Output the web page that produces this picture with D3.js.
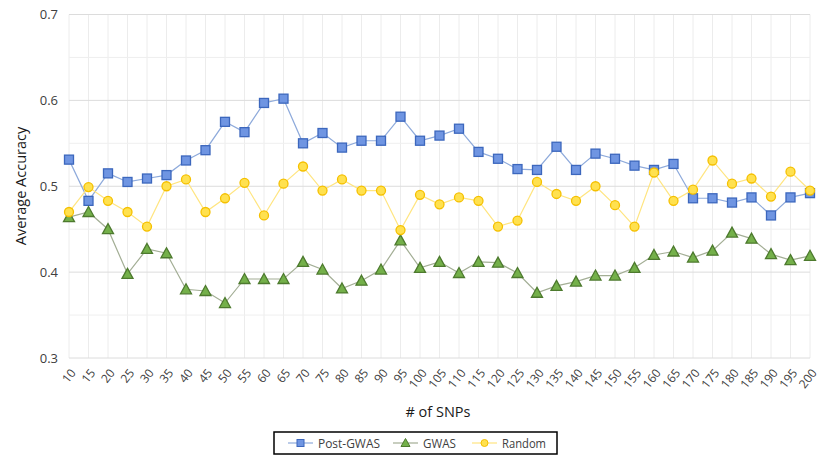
<!DOCTYPE html>
<html><head><meta charset="utf-8">
<script src="https://cdn.jsdelivr.net/npm/d3@7"></script>
<style>body{margin:0;background:#fff}svg{display:block}text{font-family:"Open Sans","Liberation Sans",sans-serif}</style>
</head><body><svg id="c" width="832" height="465"></svg>
<script>
const categories = [10,15,20,25,30,35,40,45,50,55,60,65,70,75,80,85,90,95,100,105,110,115,120,125,130,135,140,145,150,155,160,165,170,175,180,185,190,195,200];
const postGWAS = [0.531,0.483,0.515,0.505,0.509,0.513,0.530,0.542,0.575,0.563,0.597,0.602,0.550,0.562,0.545,0.553,0.553,0.581,0.553,0.559,0.567,0.540,0.532,0.520,0.519,0.546,0.519,0.538,0.532,0.524,0.519,0.526,0.486,0.486,0.481,0.487,0.466,0.487,0.492];
const gwas = [0.464,0.470,0.450,0.398,0.427,0.422,0.380,0.378,0.364,0.392,0.392,0.392,0.412,0.403,0.381,0.390,0.403,0.437,0.405,0.412,0.399,0.412,0.411,0.399,0.376,0.384,0.389,0.396,0.396,0.405,0.420,0.424,0.417,0.425,0.446,0.439,0.421,0.414,0.419];
const randomAcc = [0.470,0.499,0.483,0.470,0.453,0.500,0.508,0.470,0.486,0.504,0.466,0.503,0.523,0.495,0.508,0.495,0.495,0.449,0.490,0.479,0.487,0.483,0.453,0.460,0.505,0.491,0.483,0.500,0.478,0.453,0.516,0.483,0.496,0.530,0.503,0.509,0.488,0.517,0.495];
const yTicks = [0.3,0.4,0.5,0.6,0.7];
const yMinor = [0.35,0.45,0.55,0.65];
const seriesNames = ["Post-GWAS","GWAS","Random"];

const svg = d3.select("#c");
const L=69, R=810, T=14.5, B=358;
const x = d3.scalePoint().domain(categories).range([L,R]);
const y = d3.scaleLinear().domain([0.3,0.7]).range([B,T]);

const g = svg.append("g");
g.selectAll(".vg").data(categories).enter().append("line")
 .attr("x1",d=>x(d)).attr("x2",d=>x(d)).attr("y1",T).attr("y2",B)
 .attr("stroke","#ececec").attr("stroke-width",1);
g.selectAll(".mg").data(yMinor).enter().append("line")
 .attr("x1",L).attr("x2",R).attr("y1",d=>y(d)).attr("y2",d=>y(d))
 .attr("stroke","#efefef").attr("stroke-width",1);
g.selectAll(".hg").data(yTicks).enter().append("line")
 .attr("x1",L).attr("x2",R).attr("y1",d=>y(d)).attr("y2",d=>y(d))
 .attr("stroke","#dcdcdc").attr("stroke-width",1);

const ya = svg.append("g").attr("transform",`translate(${L},0)`)
 .call(d3.axisLeft(y).tickValues(yTicks).tickFormat(d3.format(".1f")).tickSize(0).tickPadding(11));
ya.select(".domain").remove();
ya.selectAll("text").attr("font-size",13).attr("fill","#404040")
 .attr("font-family","'Open Sans',sans-serif");

const xa = svg.append("g").attr("transform",`translate(0,${B})`)
 .call(d3.axisBottom(x).tickSize(0).tickPadding(0));
xa.select(".domain").remove();
xa.selectAll("text").attr("font-size",12).attr("fill","#404040")
 .attr("text-anchor","end").attr("dy",0)
 .attr("transform","translate(7,15) rotate(-52)")
 .attr("font-family","'Open Sans',sans-serif");

svg.append("text").attr("x",438).attr("y",417).attr("text-anchor","middle")
 .attr("font-size",14.5).attr("fill","#1a1a1a").text("# of SNPs");
svg.append("text").attr("transform","translate(26,186) rotate(-90)").attr("text-anchor","middle")
 .attr("font-size",14.5).attr("fill","#1a1a1a").text("Average Accuracy");

const styles = [
 {data:postGWAS, line:"#8eaadb", fill:"#6f95e2", stroke:"#3c67bd", shape:"square"},
 {data:gwas, line:"#a3ae95", fill:"#74b04a", stroke:"#4d7a2e", shape:"triangle"},
 {data:randomAcc, line:"#ffe580", fill:"#ffe14f", stroke:"#f5c000", shape:"circle"}
];
function drawMarker(sel, shape, s){
 if(shape==="square") sel.append("rect").attr("x",-4.5).attr("y",-4.5).attr("width",9).attr("height",9)
   .attr("fill",s.fill).attr("stroke",s.stroke).attr("stroke-width",1.3);
 else if(shape==="triangle") sel.append("path").attr("d","M0,-5.5L5.5,4.5L-5.5,4.5Z")
   .attr("fill",s.fill).attr("stroke",s.stroke).attr("stroke-width",1.3);
 else sel.append("circle").attr("r",4.5).attr("fill",s.fill).attr("stroke",s.stroke).attr("stroke-width",1.3);
}
const line = d3.line().x((d,i)=>x(categories[i])).y(d=>y(d));
styles.forEach(s=>{
 svg.append("path").datum(s.data).attr("d",line).attr("fill","none").attr("stroke",s.line).attr("stroke-width",1.2);
});
styles.forEach(s=>{
 s.data.forEach((v,i)=>{
  const m = svg.append("g").attr("transform",`translate(${x(categories[i])},${y(v)})`);
  drawMarker(m, s.shape, s);
 });
});

const lg = svg.append("g");
lg.append("rect").attr("x",274).attr("y",432).attr("width",283).attr("height",22)
 .attr("fill","#fff").attr("stroke","#000").attr("stroke-width",1.5);
const legX = [288, 393, 472];
const legW = [62, 33, 44];
seriesNames.forEach((n,i)=>{
 const s = styles[i];
 const gx = legX[i];
 lg.append("line").attr("x1",gx).attr("x2",gx+25).attr("y1",443).attr("y2",443).attr("stroke",s.line).attr("stroke-width",1.2);
 const m = lg.append("g").attr("transform",`translate(${gx+12.5},443)`);
 if(s.shape==="square"){ m.append("rect").attr("x",-3.5).attr("y",-3.5).attr("width",7).attr("height",7).attr("fill",s.fill).attr("stroke",s.stroke).attr("stroke-width",1); }
 else if(s.shape==="triangle"){ m.append("path").attr("d","M0,-4.5L4.5,3.5L-4.5,3.5Z").attr("fill",s.fill).attr("stroke",s.stroke).attr("stroke-width",1); }
 else { m.append("circle").attr("r",3.5).attr("fill",s.fill).attr("stroke",s.stroke).attr("stroke-width",1); }
 lg.append("text").attr("x",gx+30).attr("y",447.5).attr("font-size",13).attr("fill","#404040")
  .attr("textLength",legW[i]).attr("lengthAdjust","spacingAndGlyphs").text(n);
});
</script></body></html>
